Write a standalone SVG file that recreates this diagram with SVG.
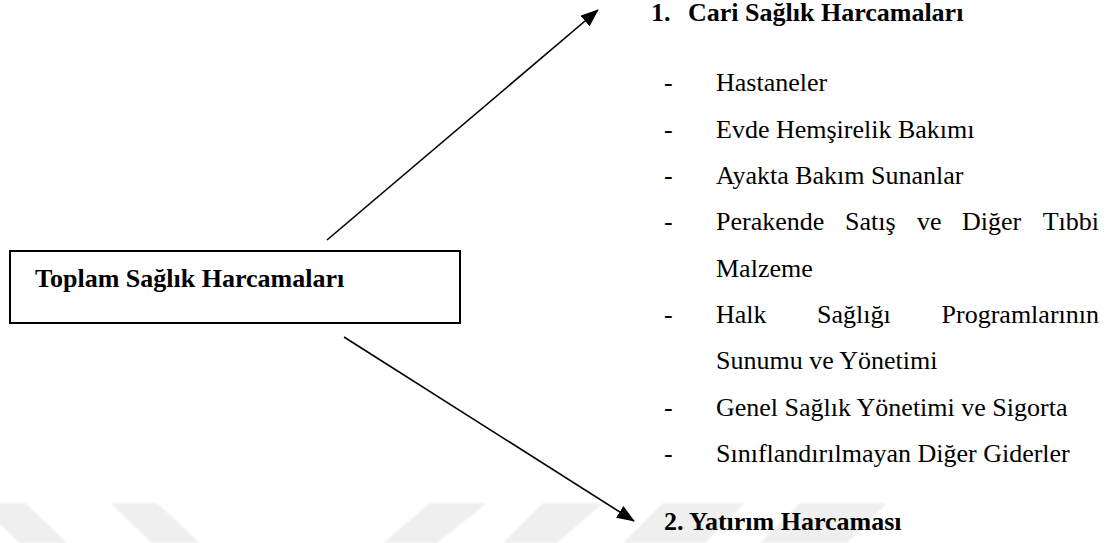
<svg xmlns="http://www.w3.org/2000/svg" width="1115" height="543" viewBox="0 0 1115 543">
  <defs>
    <style>
      .t { font-family: "Liberation Serif", "Times New Roman", serif; font-size: 26px; fill: #000; }
      .b { font-weight: bold; }
      .box { fill: #fff; stroke: #000; stroke-width: 2; }
      .conn { stroke: #000; stroke-width: 1.6; fill: none; marker-end: url(#head); }
      .wm { fill: #efefef; }
    </style>
    <marker id="head" viewBox="0 0 18 14" refX="17" refY="7" markerWidth="18" markerHeight="14" markerUnits="userSpaceOnUse" orient="auto">
      <path d="M0,0 L18,7 L0,14 Z" fill="#000"/>
    </marker>
    <filter id="soft" x="-5%" y="-5%" width="110%" height="110%">
      <feGaussianBlur stdDeviation="1.2"/>
    </filter>
  </defs>

  <rect width="1115" height="543" fill="#fff"/>

  <!-- faint background bands along the lower edge -->
  <g id="backdrop" class="wm" filter="url(#soft)">
    <polygon points="-22,503 25,503 67,543 20,543"/>
    <polygon points="110,503 157,503 200,543 152,543"/>
    <polygon points="430,503 487,503 437,543 383,543"/>
    <polygon points="543,503 603,503 557,543 503,543"/>
    <polygon points="663,503 745,503 705,543 623,543"/>
    <polygon points="800,503 887,503 847,543 760,543"/>
  </g>

  <!-- connectors -->
  <g id="connectors">
    <line class="conn" x1="327" y1="240" x2="598" y2="10"/>
    <line class="conn" x1="344" y1="337" x2="634" y2="521"/>
  </g>

  <!-- root node -->
  <g id="node-total">
    <rect class="box" x="10" y="251" width="450" height="72"/>
    <text class="t b" x="35" y="287">Toplam Sağlık Harcamaları</text>
  </g>

  <!-- current expenditure with its items -->
  <g id="node-current">
    <text class="t b" x="651" y="21">1.</text>
    <text class="t b" x="688" y="21">Cari Sağlık Harcamaları</text>

    <g id="items">
      <text class="t" x="664" y="91">-</text>
      <text class="t" x="716" y="91">Hastaneler</text>

      <text class="t" x="664" y="137.5">-</text>
      <text class="t" x="716" y="137.5">Evde Hemşirelik Bakımı</text>

      <text class="t" x="664" y="184">-</text>
      <text class="t" x="716" y="184">Ayakta Bakım Sunanlar</text>

      <!-- justified line: words spread to the right margin -->
      <text class="t" x="664" y="230">-</text>
      <text class="t" x="716" y="230">Perakende</text>
      <text class="t" x="845" y="230">Satış</text>
      <text class="t" x="917" y="230">ve</text>
      <text class="t" x="962" y="230">Diğer</text>
      <text class="t" x="1099" y="230" text-anchor="end">Tıbbi</text>
      <text class="t" x="716" y="276.5">Malzeme</text>

      <text class="t" x="664" y="323">-</text>
      <text class="t" x="716" y="323">Halk</text>
      <text class="t" x="817" y="323">Sağlığı</text>
      <text class="t" x="1099" y="323" text-anchor="end">Programlarının</text>
      <text class="t" x="716" y="369">Sunumu ve Yönetimi</text>

      <text class="t" x="664" y="415.5">-</text>
      <text class="t" x="716" y="415.5">Genel Sağlık Yönetimi ve Sigorta</text>

      <text class="t" x="664" y="462">-</text>
      <text class="t" x="716" y="462">Sınıflandırılmayan Diğer Giderler</text>
    </g>
  </g>

  <!-- investment expenditure -->
  <g id="node-investment">
    <text class="t b" x="664" y="530">2. Yatırım Harcaması</text>
  </g>
</svg>
